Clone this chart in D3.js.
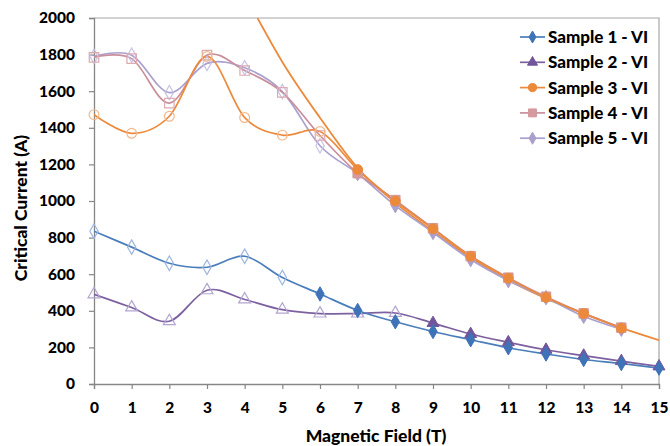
<!DOCTYPE html>
<html><head><meta charset="utf-8">
<script src="https://cdn.jsdelivr.net/npm/d3@7"></script>
<style>html,body{margin:0;padding:0;background:#fff;}svg{display:block;}</style>
</head><body>
<svg id="chart" width="670" height="446"></svg>
<script>
// ---- data ----
const fieldValues = [0,1,2,3,4,5,6,7,8,9,10,11,12,13,14,15];
const sample1 = [835, 748, 660, 638, 698, 582, 492, 402, 340, 287, 242, 198, 164, 134, 112, 87];
const sample2 = [490, 418, 343, 512, 462, 406, 385, 385, 388, 333, 273, 228, 187, 155, 125, 96];
const sample3 = [1472, 1370, 1463, 1790, 1456, 1360, 1380, 1172, 1000, 848, 698, 578, 473, 385, 305];
const sample4 = [1785, 1778, 1535, 1797, 1713, 1594, 1358, 1152, 1005, 851, 699, 581, 477, 386, 308];
const sample5 = [1790, 1797, 1592, 1752, 1728, 1598, 1302, 1150, 975, 828, 680, 565, 472, 370, 299];
const filledFrom = [6, 9, 7, 7, 7];
const seriesNames = ["Sample 1 - VI","Sample 2 - VI","Sample 3 - VI","Sample 4 - VI","Sample 5 - VI"];
const fitField = [4.34, 5, 6, 7, 8, 9, 10, 11, 12, 13, 14, 15];
const fitValues = [2000, 1760, 1455, 1180, 990, 835, 690, 568, 468, 385, 307, 240];
const yTicks = [0,200,400,600,800,1000,1200,1400,1600,1800,2000];

// ---- styles ----
const lineColors = ["#4a7ebb","#7d60a0","#ec8a3c","#c98f9c","#a9a0cf"];
const markerFill = ["#3f73b8","#73559a","#ec8a3c","#d49a9e","#ab9fcc"];
const hollowStroke = ["#9bb7de","#b3a5cf","#f2b88a","#dcaab0","#c9c2e2"];
const shapes = [d3.symbolDiamond, d3.symbolTriangle, d3.symbolCircle, d3.symbolSquare, d3.symbolDiamond];
const sizes = [60, 62, 75, 90, 60];

const svg = d3.select("#chart");
const m = {left:94, right:659, top:18, bottom:384};
const x = d3.scaleLinear().domain([0,15]).range([m.left, m.right]);
const y = d3.scaleLinear().domain([0,2000]).range([m.bottom, m.top]);

svg.append("defs").append("clipPath").attr("id","clip")
  .append("rect").attr("x",m.left).attr("y",m.top).attr("width",m.right-m.left).attr("height",m.bottom-m.top);

// frame (top and right)
svg.append("path").attr("d",`M${m.left},${m.top}H${m.right}V${m.bottom}`)
  .attr("fill","none").attr("stroke","#a6a6a6").attr("stroke-width",1.2);

const font = "Lato, 'Open Sans', sans-serif";
// axes
const xAxis = svg.append("g").attr("transform",`translate(0,${m.bottom})`)
  .call(d3.axisBottom(x).tickValues(fieldValues).tickFormat(d3.format("d")).tickSize(5).tickPadding(13));
const yAxis = svg.append("g").attr("transform",`translate(${m.left},0)`)
  .call(d3.axisLeft(y).tickValues(yTicks).tickSize(5).tickPadding(14).tickFormat(d3.format("d")));
[xAxis,yAxis].forEach(a=>{
  a.select(".domain").attr("stroke","#868686").attr("stroke-width",1.3);
  a.selectAll(".tick line").attr("stroke","#868686").attr("stroke-width",1.2);
  a.selectAll("text").attr("fill","#000").attr("font-family",font).attr("font-weight","900").attr("font-size","15.5px");
});

svg.append("text").attr("x",376).attr("y",442).attr("text-anchor","middle")
  .attr("font-family",font).attr("font-weight","900").attr("font-size","17.5px").text("Magnetic Field (T)");
svg.append("text").attr("transform",`translate(27,${208}) rotate(-90)`).attr("text-anchor","middle")
  .attr("font-family",font).attr("font-weight","900").attr("font-size","17.5px").text("Critical Current (A)");

const allSeries = [sample1, sample2, sample3, sample4, sample5];
const plot = svg.append("g").attr("clip-path","url(#clip)");
const line = d3.line().x(d=>x(d[0])).y(d=>y(d[1])).curve(d3.curveCardinal.tension(0));

// fit curve
plot.append("path").datum(fitField.map((f,i)=>[f,fitValues[i]]))
  .attr("d", d3.line().x(d=>x(d[0])).y(d=>y(d[1])).curve(d3.curveMonotoneX))
  .attr("fill","none").attr("stroke","#ec8a3c").attr("stroke-width",1.8);

const order = [4,3,2,1,0];
order.forEach(s=>{
  const pts = allSeries[s].map((v,i)=>[fieldValues[i],v]);
  plot.append("path").datum(pts).attr("d",line)
    .attr("fill","none").attr("stroke",lineColors[s]).attr("stroke-width",1.7);
});
order.forEach(s=>{
  const pts = allSeries[s].map((v,i)=>[fieldValues[i],v]);
  const g = svg.append("g");
  pts.forEach((p,i)=>{
    const filled = i >= filledFrom[s];
    g.append("path").attr("d", d3.symbol().type(shapes[s]).size(sizes[s])())
      .attr("transform",`translate(${x(p[0])},${y(p[1])})`)
      .attr("fill", filled ? markerFill[s] : "none")
      .attr("stroke", filled ? markerFill[s] : hollowStroke[s])
      .attr("stroke-width", filled ? 1 : 1.2);
  });
});

// legend
const lg = svg.append("g");
seriesNames.forEach((n,i)=>{
  const yy = 37 + i*25.3;
  lg.append("line").attr("x1",520).attr("x2",545).attr("y1",yy).attr("y2",yy)
    .attr("stroke",lineColors[i]).attr("stroke-width",1.7);
  lg.append("path").attr("d", d3.symbol().type(shapes[i]).size(sizes[i]*0.7)())
    .attr("transform",`translate(532.5,${yy})`).attr("fill",markerFill[i]).attr("stroke",markerFill[i]);
  lg.append("text").attr("x",548).attr("y",yy).attr("dy","0.36em")
    .attr("font-family",font).attr("font-weight","900").attr("font-size","17px").text(n);
});
</script>
</body></html>
